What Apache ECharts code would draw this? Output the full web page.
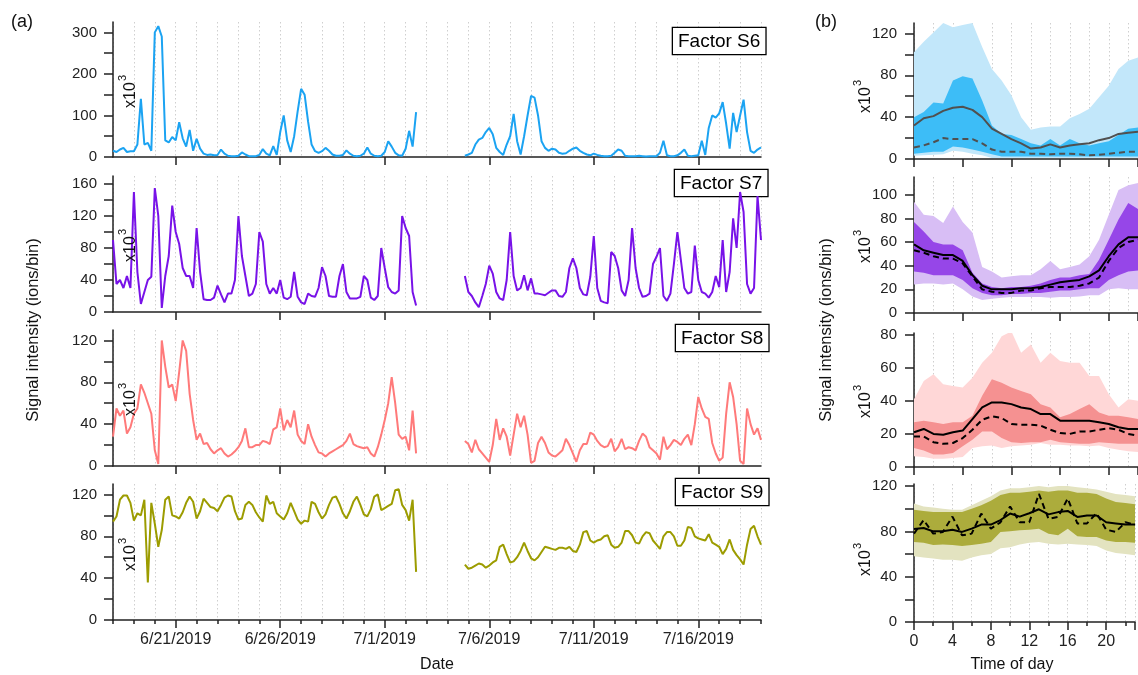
<!DOCTYPE html>
<html><head><meta charset="utf-8">
<script src="https://cdn.jsdelivr.net/npm/echarts@6/dist/echarts.min.js"></script>
<style>html,body{margin:0;padding:0;background:#fff}#c{width:1138px;height:675px}</style>
</head><body><div id="c"></div>
<script>
// ---------- time series (a): one value every 4 h from 6/18/2019 00:00 ----------
const START_LABEL_DAY = 18;           // June 18, 2019
const STEP_HOURS = 4;
const DATE_TICK_DAYS = [3, 8, 13, 18, 23, 28]; // 6/21, 6/26, 7/1, 7/6, 7/11, 7/16

const S6 = [
15,12,18,22,12,14, 14,30,140,30,34,15, 300,315,290,40,35,48, 40,84,45,25,65,15,
44,20,8,5,6,4, 5,18,8,3,2,2, 3,11,6,2,2,2, 5,19,8,4,26,5,
60,100,40,12,50,110, 164,150,85,30,14,10, 14,22,15,6,3,3, 5,16,8,3,2,3,
8,23,8,3,2,3, 12,38,25,10,4,3, 20,63,25,108,
null,null,null,null,null,null,null,null,null,null,null,null,null,
3,6,10,30,42,46, 60,70,55,22,12,5, 30,50,104,38,6,50, 100,147,143,100,38,22,
15,20,18,10,8,9, 15,20,23,15,10,6, 4,8,5,3,2,2, 3,10,18,15,3,2,
2,2,3,2,1,2, 2,2,10,39,4,2, 2,4,10,18,3,2, 3,4,39,5,70,100,
95,105,132,80,20,106, 60,100,138,60,15,10, 18,23];

const S7 = [
90,35,40,30,45,30, 150,50,10,25,40,44, 155,120,5,45,70,133, 100,85,55,45,45,30,
105,50,16,15,15,18, 33,22,12,23,23,40, 120,70,45,20,23,35, 100,88,35,23,30,23,
40,18,16,19,50,19, 12,10,23,20,19,30, 56,45,20,19,19,45, 60,25,17,17,17,19,
45,40,18,15,20,80, 55,31,25,23,27,120, 105,95,25,8,
null,null,null,null,null,null,null,null,null,null,null,null,null,
45,25,20,12,6,20, 35,58,48,25,17,15, 40,100,45,27,30,46, 27,42,23,23,22,21,
24,27,27,20,19,25, 55,67,55,30,22,21, 44,95,30,14,12,11, 75,70,55,27,20,40,
105,55,30,19,20,23, 60,69,80,20,14,23, 60,100,65,30,23,25, 83,40,25,23,18,25,
45,31,90,25,50,117, 80,150,125,35,23,30, 145,90];

const S8 = [
28,55,48,53,31,37, 50,55,78,70,60,50, 15,2,120,95,75,78, 62,90,120,110,69,44,
25,31,21,22,16,12, 15,17,12,9,11,14, 18,24,36,18,18,20, 20,24,23,21,35,37,
55,34,44,37,53,30, 24,21,40,28,20,13, 12,9,12,14,16,18, 20,24,31,21,19,18,
17,18,12,9,18,30, 44,60,85,60,30,26, 28,15,53,12,
null,null,null,null,null,null,null,null,null,null,null,null,null,
24,21,13,25,16,12, 8,4,20,45,25,36, 28,10,30,50,37,48, 30,3,5,22,28,22,
13,10,9,12,15,26, 20,12,4,15,21,21, 32,30,24,20,18,19, 26,14,18,26,16,18,
17,15,24,31,28,18, 15,12,6,28,16,20, 25,23,20,26,30,20, 40,66,55,47,45,22,
12,5,8,50,80,66, 40,5,2,55,40,30, 36,25];

const S9 = [
94,99,115,119,119,112, 95,102,100,115,36,112, 92,70,86,115,118,100, 99,97,103,112,118,113,
97,104,116,112,108,107, 104,110,117,119,118,104, 96,97,110,113,110,103, 98,94,119,111,113,102,
99,96,102,112,104,96, 92,95,94,113,111,103, 97,101,110,117,118,111, 102,97,104,113,118,110,
101,99,106,118,120,105, 107,109,111,124,125,110, 105,95,115,46,
null,null,null,null,null,null,null,null,null,null,null,null,null,
53,49,50,52,54,53, 50,52,55,57,70,72, 63,55,56,60,66,74, 66,59,57,60,65,70,
69,68,67,69,69,68, 70,66,65,72,84,85, 76,74,76,77,80,81, 72,69,70,74,85,85,
81,74,73,80,84,83, 76,72,68,80,84,84, 80,71,71,76,89,88, 80,78,77,76,82,74,
72,70,63,68,77,67, 62,58,53,72,87,90, 80,72];

// ---------- diurnal profiles (b): hours 0..23 ----------
const HOURS = [0,1,2,3,4,5,6,7,8,9,10,11,12,13,14,15,16,17,18,19,20,21,22,23];

const D6_p90 = [102,112,121,130,126,128,130,107,86,75,61,40,28,30,31,31,39,43,48,59,70,86,94,97];
const D6_p75 = [40,45,54,53,75,79,77,56,32,24,23,19,15,13,19,13,19,15,13,15,17,23,29,30];
const D6_mean = [32,39,41,46,49,50,47,40,29,24,19,15,10,11,14,11,13,14,15,18,20,24,25,26];
const D6_median = [11,13,16,20,19,19,19,15,9,7,7,7,5,5,4.5,5,5,4.5,3.5,4,5,6,7,7];
const D6_p25 = [5,6,7,7,12,11,9,7,4.5,2.5,2.5,2.5,2.5,2.5,2.5,2.5,2.5,2.5,2.5,2.5,2.5,2.5,2.5,2.5];
const D6_p10 = [3,3.5,4,4.5,8,7,5,3.5,1,1,1,1,1,1,1,1,1,1,1,1,1,1,1,1];

const D7_p90 = [94,83,82,76,90,77,68,39,35,30,31,32,32,37,44,37,39,41,48,62,83,104,108,110];
const D7_p75 = [77,69,60,58,58,53,34,25,22,21,22,22,23,25,28,30,30,32,33,45,62,79,93,88];
const D7_mean = [58,53,51,49,49,44,32,23,20,20,20,21,21,22,24,26,27,28,31,36,48,58,64,64];
const D7_median = [53,51,48,46,46,42,31,20,18,17,17,19,19,21,22,22,22,23,25,30,44,55,60,62];
const D7_p25 = [35,34,32,32,32,28,21,17,15,15,16,16,17,17,18,19,19,20,21,21,28,32,35,36];
const D7_p10 = [24,25,25,24,25,20,14,11,12,13,13.5,13.5,13.5,13.5,13,13.5,13.5,14,15,15,20,21,20,20];

const D8_p90 = [41,52,56,50,49,48,54,63,69,79,82,69,74,63,69,64,63,63,55,55,44,36,41,40];
const D8_p75 = [27,28,27,26,27,27,31,43,53,51,48,46,44,38,36,30,32,35,38,33,31,31,30,29];
const D8_mean = [21,23,20,19.5,21,22,29,36,39,39,38,36,35,32,32,28,28,28,28,27,26,24,23,23];
const D8_median = [18.5,18.5,15,14,14.5,17.5,22.5,28.6,30.6,29.6,26,25.6,25.6,25,22.5,20.5,20,21.5,21.5,22.5,23.5,22.5,20,19];
const D8_p25 = [11.5,10,7.5,7.5,8.5,12.5,16.5,21.5,21.5,17.5,15,14.5,15,15,16.5,15,14.5,14,14,15,14.5,14,14,14];
const D8_p10 = [6.5,6,5,5,5.5,6,11.5,12.5,13,11.5,12.5,13,13.5,14.5,13.5,13.5,13,13,12.5,13,11.5,10.5,9.5,9];

const D9_p90 = [104.5,102,101,100,99,99,103,107,111,116,118,118,119,120,119,120,120,119,118,117,115,113,112,111];
const D9_p75 = [99,98,97,97,97,97,100,103,107,112,114,114,115,116,115,116,116,114,114,113,109,106,105,104];
const D9_mean = [82,83,80,80,81.5,79.5,82.4,86,86,90,95.7,93,96,99.5,95,97,98,92.7,94,94,88,87,86,86];
const D9_median = [78,90,78,79.5,93,76.5,78,95.7,82.4,88,102,88,88,113,91,92.7,109,87,87,96,81.5,79.5,88,86];
const D9_p25 = [70.6,70,68,68.5,68,67,68,69,70.6,79.5,80,81,81.5,82.4,78,76.5,82.4,75.6,75,75,72,70.6,70.6,70];
const D9_p10 = [58,57,56,55,55,54,57,59,60,65,66,68.5,70,70.6,69,68.5,69,68.5,68,67,63,61,60,59];

// ---------- styling ----------
const FONT = '"Liberation Sans", Arial, Helvetica, sans-serif';
const AX = '#222';
const LINE_COLORS = ['#1BA3F2', '#7812E8', '#FF7A7A', '#9C9C00'];
const BAND_LIGHT = ['#C2E7FA', '#D8BEF5', '#FFD7D7', '#E3E3C0'];
const BAND_DARK = ['#3DBDF7', '#9646E8', '#F59191', '#ACAC3C'];
const PROFILE_LINE = ['#505050', '#000', '#000', '#000'];

const leftGrids = [
  {top: 22, height: 135}, {top: 176, height: 136}, {top: 330, height: 136}, {top: 484, height: 136}
];
const rightGrids = [
  {top: 23, height: 136}, {top: 177, height: 136}, {top: 333, height: 134}, {top: 484, height: 138}
];
const leftY = [
  {max: 325, ticks: [0,50,100,150,200,250,300], labels: [0,100,200,300]},
  {max: 170, ticks: [0,20,40,60,80,100,120,140,160], labels: [0,40,80,120,160]},
  {max: 130, ticks: [0,20,40,60,80,100,120], labels: [0,40,80,120]},
  {max: 130, ticks: [0,20,40,60,80,100,120], labels: [0,40,80,120]}
];
const rightY = [
  {max: 130, ticks: [0,20,40,60,80,100,120], labels: [0,40,80,120]},
  {max: 115, ticks: [0,20,40,60,80,100], labels: [0,20,40,60,80,100]},
  {max: 81, ticks: [0,20,40,60,80], labels: [0,20,40,60,80]},
  {max: 121.8, ticks: [0,20,40,60,80,100,120], labels: [0,40,80,120]}
];

function dateLabel(d) {
  const dt = new Date(2019, 5, START_LABEL_DAY + Math.round(d));
  return (dt.getMonth() + 1) + '/' + dt.getDate() + '/' + dt.getFullYear();
}

const grid = [], xAxis = [], yAxis = [], series = [];
const lineStyleAx = {color: AX, width: 1.5};
const labelBase = {fontFamily: FONT, fontSize: 15, color: AX};
const dotted = {color: '#cfcfcf', type: [1.5, 2.5], width: 1};

// left panels
leftGrids.forEach((g, i) => {
  grid.push({left: 113, width: 648, top: g.top, height: g.height});
  const last = i === 3;
  xAxis.push({ type: 'value', gridIndex: i, position: 'bottom', min: 0, max: 31, interval: 1,
    axisLine: {show: true, onZero: false, lineStyle: lineStyleAx},
    axisTick: {show: last, length: 4, lineStyle: lineStyleAx},
    axisLabel: {show: false}, splitLine: {show: true, lineStyle: dotted} });
  xAxis.push({ type: 'value', gridIndex: i, position: 'bottom', min: 0, max: 31,
    axisLine: {show: false, onZero: false},
    axisTick: {show: true, length: 8, customValues: DATE_TICK_DAYS, lineStyle: lineStyleAx},
    axisLabel: {show: last, customValues: DATE_TICK_DAYS, margin: 12, fontSize: 16,
      fontFamily: FONT, color: AX, formatter: v => dateLabel(v)},
    splitLine: {show: false} });
  const y = leftY[i];
  yAxis.push({ type: 'value', gridIndex: i, position: 'left', min: 0, max: y.max,
    axisLine: {show: true, onZero: false, lineStyle: lineStyleAx},
    axisTick: {show: true, length: 9, customValues: y.ticks, lineStyle: lineStyleAx},
    axisLabel: Object.assign({customValues: y.labels, margin: 16}, labelBase),
    splitLine: {show: false} });
});

// right panels
rightGrids.forEach((g, j) => {
  const gi = 4 + j;
  const last = j === 3;
  grid.push({left: 914, width: 231, top: g.top, height: g.height});
  xAxis.push({ type: 'value', gridIndex: gi, position: 'bottom', min: 0, max: 23, interval: 2,
    axisLine: {show: true, onZero: false, lineStyle: lineStyleAx},
    axisTick: {show: last, length: 4, lineStyle: lineStyleAx},
    axisLabel: {show: false}, splitLine: {show: true, lineStyle: dotted} });
  xAxis.push({ type: 'value', gridIndex: gi, position: 'bottom', min: 0, max: 23, interval: last ? 4 : 5,
    axisLine: {show: false, onZero: false},
    axisTick: {show: true, length: 8, lineStyle: lineStyleAx},
    axisLabel: {show: last, margin: 12, fontSize: 16, fontFamily: FONT, color: AX,
      formatter: v => (v % 4 === 0 && v <= 20) ? String(v) : ''},
    splitLine: {show: false} });
  const y = rightY[j];
  yAxis.push({ type: 'value', gridIndex: gi, position: 'left', min: 0, max: y.max,
    axisLine: {show: true, onZero: false, lineStyle: lineStyleAx},
    axisTick: {show: true, length: 9, customValues: y.ticks, lineStyle: lineStyleAx},
    axisLabel: Object.assign({customValues: y.labels, margin: 17}, labelBase),
    splitLine: {show: false} });
});

// time-series lines
const tsData = [S6, S7, S8, S9];
tsData.forEach((arr, i) => {
  series.push({ type: 'line', xAxisIndex: 2 * i, yAxisIndex: i, showSymbol: false, symbol: 'none',
    connectNulls: false, z: 3, silent: true,
    lineStyle: {color: LINE_COLORS[i], width: 2},
    data: arr.map((v, k) => [k * STEP_HOURS / 24, v == null ? '-' : v]) });
});

// diurnal bands (polygons between two percentile curves) and lines
const prof = [
  [D6_p10, D6_p25, D6_p75, D6_p90, D6_mean, D6_median],
  [D7_p10, D7_p25, D7_p75, D7_p90, D7_mean, D7_median],
  [D8_p10, D8_p25, D8_p75, D8_p90, D8_mean, D8_median],
  [D9_p10, D9_p25, D9_p75, D9_p90, D9_mean, D9_median]
];
function bandSeries(xi, yi, lo, hi, color, z) {
  return {
    type: 'custom', coordinateSystem: 'cartesian2d', xAxisIndex: xi, yAxisIndex: yi,
    silent: true, z: z, clip: true,
    data: [[HOURS[0], lo[0]]],
    renderItem: function (params, api) {
      const pts = [];
      HOURS.forEach((h, k) => pts.push(api.coord([h, hi[k]])));
      for (let k = HOURS.length - 1; k >= 0; k--) pts.push(api.coord([HOURS[k], lo[k]]));
      return {type: 'polygon', shape: {points: pts}, style: {fill: color, stroke: null}};
    }
  };
}
prof.forEach((p, j) => {
  const gi = 4 + j, xi = 2 * gi;
  const [p10, p25, p75, p90, mean, med] = p;
  series.push(bandSeries(xi, gi, p10, p90, BAND_LIGHT[j], 2));
  series.push(bandSeries(xi, gi, p25, p75, BAND_DARK[j], 2));
  series.push({type: 'line', xAxisIndex: xi, yAxisIndex: gi, showSymbol: false, symbol: 'none',
    silent: true, z: 4, lineStyle: {color: PROFILE_LINE[j], width: 2, type: [6, 4]},
    data: HOURS.map((h, k) => [h, med[k]])});
  series.push({type: 'line', xAxisIndex: xi, yAxisIndex: gi, showSymbol: false, symbol: 'none',
    silent: true, z: 5, lineStyle: {color: PROFILE_LINE[j], width: 2},
    data: HOURS.map((h, k) => [h, mean[k]])});
});

// graphic texts
const graphic = [];
function txt(x, y, text, size, opts) {
  graphic.push(Object.assign({type: 'text', x: x, y: y, z: 10, silent: true,
    style: Object.assign({text: text, font: size + 'px ' + FONT, fill: '#111',
      align: 'center', verticalAlign: 'middle'}, (opts && opts.style) || {})},
    (opts && opts.el) || {}));
}
txt(22, 22, '(a)', 18);
txt(826, 22, '(b)', 18);
txt(33, 330, 'Signal intensity (ions/bin)', 16.5, {el: {rotation: Math.PI / 2}});
txt(826, 330, 'Signal intensity (ions/bin)', 16.5, {el: {rotation: Math.PI / 2}});
txt(437, 665, 'Date', 16);
txt(1012, 665, 'Time of day', 16);

function x10(cx, cy) {
  txt(cx, cy, 'x10', 16, {el: {rotation: Math.PI / 2}});
  txt(cx - 8, cy - 17, '3', 11, {el: {rotation: Math.PI / 2}});
}
x10(131, 95); x10(131, 249); x10(131, 403); x10(131, 558);
x10(866, 100); x10(866, 250); x10(866, 405); x10(866, 563);

function factorBox(x, y, label) {
  graphic.push({type: 'text', x: x, y: y, z: 1, silent: true,
    style: {text: label, font: '19px ' + FONT, fill: '#000', backgroundColor: '#fff',
      borderColor: '#000', borderWidth: 1.3, padding: [4, 5, 3, 5], align: 'left', verticalAlign: 'top'}});
}
factorBox(673, 28, 'Factor S6');
factorBox(675, 170, 'Factor S7');
factorBox(676, 325, 'Factor S8');
factorBox(676, 479, 'Factor S9');

const chart = echarts.init(document.getElementById('c'), null, {renderer: 'canvas'});
chart.setOption({
  animation: false,
  backgroundColor: '#fff',
  grid: grid, xAxis: xAxis, yAxis: yAxis, series: series, graphic: graphic
});
</script></body></html>
